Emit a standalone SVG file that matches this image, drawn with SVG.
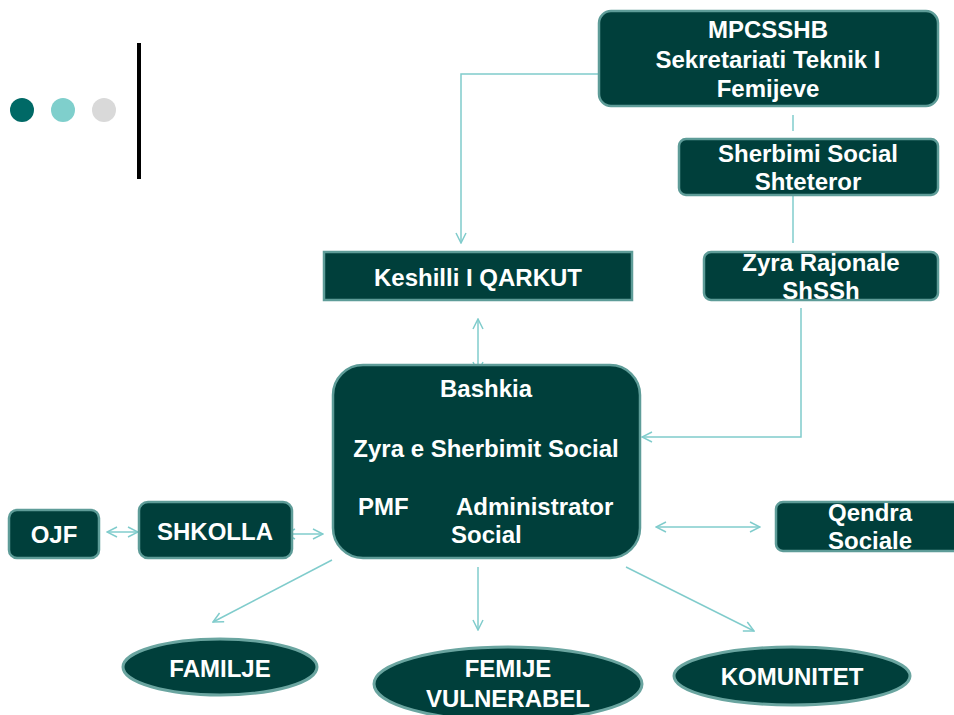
<svg xmlns="http://www.w3.org/2000/svg" width="954" height="715" viewBox="0 0 954 715">
<style>
.box{fill:#003f3b;stroke:#5e9c98;stroke-width:2.5}
.ell{fill:#003f3b;stroke:#6aa5a0;stroke-width:3}
.t{font-family:"Liberation Sans",Arial,sans-serif;font-weight:bold;font-size:24px;fill:#ffffff}
.c{text-anchor:middle}
.ln{fill:none;stroke:#80cccc;stroke-width:1.5}
</style>
<defs>
<marker id="ah" viewBox="0 0 12 12" refX="11" refY="6" markerWidth="12" markerHeight="12" markerUnits="userSpaceOnUse" orient="auto-start-reverse">
<path d="M1,1 L11,6 L1,11" fill="none" stroke="#80cccc" stroke-width="1.5"/>
</marker>
</defs>
<g id="decor">
<circle cx="22" cy="110" r="12" fill="#006966"/>
<circle cx="63" cy="110" r="12" fill="#7fcfcc"/>
<circle cx="104" cy="110" r="12" fill="#d9d9d9"/>
<rect x="137" y="43" width="4" height="136" fill="#000000"/>
</g>
<g id="connectors">
<path class="ln" d="M599,74 H461 V243" marker-end="url(#ah)"/>
<path class="ln" d="M793,115 V131"/>
<path class="ln" d="M793,195 V243"/>
<path class="ln" d="M801,308 V437 H642" marker-end="url(#ah)"/>
<path class="ln" d="M478,319 V372" marker-start="url(#ah)" marker-end="url(#ah)"/>
<path class="ln" d="M107,532 H138" marker-start="url(#ah)" marker-end="url(#ah)"/>
<path class="ln" d="M285,534 H323" marker-start="url(#ah)" marker-end="url(#ah)"/>
<path class="ln" d="M656,527 H760" marker-start="url(#ah)" marker-end="url(#ah)"/>
<path class="ln" d="M332,560 L213,622" marker-end="url(#ah)"/>
<path class="ln" d="M478,567 V630" marker-end="url(#ah)"/>
<path class="ln" d="M626,567 L754,631" marker-end="url(#ah)"/>
</g>
<g id="mpcsshb">
<rect class="box" x="599" y="11" width="339" height="95" rx="12"/>
<text class="t c" x="768" y="38">MPCSSHB</text>
<text class="t c" x="768" y="68">Sekretariati Teknik I</text>
<text class="t c" x="768" y="97">Femijeve</text>
</g>
<g id="sherbimi">
<rect class="box" x="679" y="139" width="259" height="56" rx="7"/>
<text class="t c" x="808" y="162">Sherbimi Social</text>
<text class="t c" x="808" y="190">Shteteror</text>
</g>
<g id="zyra-rajonale">
<rect class="box" x="704" y="252" width="234" height="48" rx="7"/>
<text class="t c" x="821" y="271">Zyra Rajonale</text>
<text class="t c" x="821" y="299">ShSSh</text>
</g>
<g id="keshilli">
<rect class="box" x="324" y="252" width="308" height="48"/>
<text class="t c" x="478" y="286">Keshilli I QARKUT</text>
</g>
<g id="bashkia">
<rect class="box" x="333" y="365" width="307" height="193" rx="30"/>
<text class="t c" x="486" y="397">Bashkia</text>
<text class="t c" x="486" y="457">Zyra e Sherbimit Social</text>
<text class="t" x="358" y="515">PMF</text>
<text class="t" x="456" y="515">Administrator</text>
<text class="t" x="451" y="543">Social</text>
</g>
<g id="ojf">
<rect class="box" x="9" y="510" width="90" height="48" rx="8"/>
<text class="t c" x="54" y="543">OJF</text>
</g>
<g id="shkolla">
<rect class="box" x="139" y="502" width="153" height="56" rx="9"/>
<text class="t c" x="215" y="540">SHKOLLA</text>
</g>
<g id="qendra">
<rect class="box" x="776" y="502" width="190" height="49" rx="7"/>
<text class="t c" x="870" y="521">Qendra</text>
<text class="t c" x="870" y="549">Sociale</text>
</g>
<g id="familje">
<ellipse class="ell" cx="220" cy="667" rx="97" ry="28"/>
<text class="t c" x="220" y="677">FAMILJE</text>
</g>
<g id="femije">
<ellipse class="ell" cx="508" cy="684" rx="134" ry="37"/>
<text class="t c" x="508" y="677">FEMIJE</text>
<text class="t c" x="508" y="707">VULNERABEL</text>
</g>
<g id="komunitet">
<ellipse class="ell" cx="792" cy="676" rx="118" ry="29"/>
<text class="t c" x="792" y="685">KOMUNITET</text>
</g>
</svg>
